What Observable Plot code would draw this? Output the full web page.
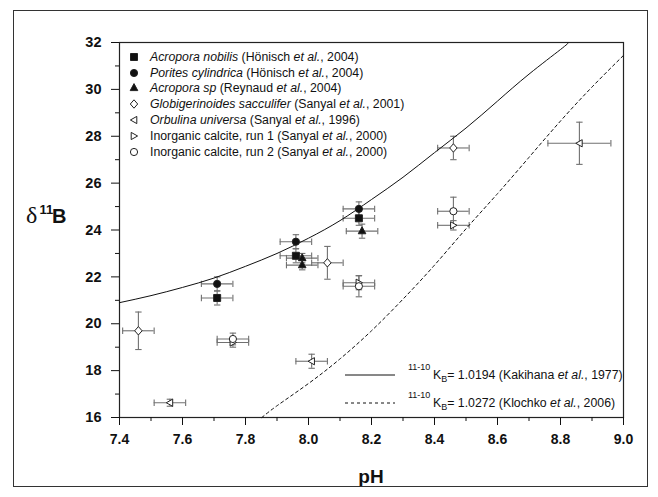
<!DOCTYPE html>
<html><head><meta charset="utf-8">
<script src="https://cdn.jsdelivr.net/npm/d3@7"></script>
<script src="https://cdn.jsdelivr.net/npm/@observablehq/plot@0.6"></script>
<style>
body{margin:0;background:#fff;}
#wrap{position:relative;width:658px;height:497px;font-family:"Liberation Sans",Arial,sans-serif;color:#111;overflow:hidden}
#frame{position:absolute;left:13px;top:10px;width:635px;height:477px;border:1.5px solid #333;box-sizing:border-box;pointer-events:none;}
#legend{position:absolute;left:127px;top:48.8px;font-size:12.3px;}
#legend .row{display:flex;align-items:center;height:15.83px;white-space:nowrap}
#legend svg{width:14px;height:12px;margin-right:9px;overflow:visible}
#over{position:absolute;left:0;top:0;pointer-events:none}
svg text{font-family:"Liberation Sans",Arial,sans-serif}
g[aria-label="x-axis tick label"] text, g[aria-label="y-axis tick label"] text{font-weight:bold}
</style></head>
<body><div id="wrap"></div>
<script>
// ---- tick values ----
const xTicks=[7.4,7.6,7.8,8.0,8.2,8.4,8.6,8.8,9.0];
const xMinor=[7.5,7.7,7.9,8.1,8.3,8.5,8.7,8.9];
const yTicks=[16,18,20,22,24,26,28,30,32];
const yMinor=[17,19,21,23,25,27,29,31];

// ---- theoretical curves ----
const kakihanaPH=[7.4,7.5,7.6,7.7,7.8,7.9,8.0,8.1,8.2,8.3,8.4,8.5,8.6,8.7,8.8,8.826];
const kakihanaD =[20.9,21.2,21.55,21.95,22.45,23.0,23.65,24.4,25.3,26.25,27.3,28.35,29.5,30.65,31.7,32.0];
const klochkoPH=[7.852,7.9,8.0,8.1,8.2,8.3,8.4,8.5,8.6,8.7,8.8,8.9,9.0];
const klochkoD =[16.0,16.5,17.45,18.5,19.7,21.05,22.5,24.05,25.55,27.1,28.65,30.1,31.45];

// ---- measured data: pH, d11B, x error, y error ----
const acroporaNobilis=[{pH:7.71,d:21.1,ex:0.05,ey:0.3},{pH:7.96,d:22.9,ex:0.05,ey:0.3},{pH:8.16,d:24.5,ex:0.05,ey:0.3}];
const poritesCylindrica=[{pH:7.71,d:21.7,ex:0.05,ey:0.3},{pH:7.96,d:23.5,ex:0.05,ey:0.3},{pH:8.16,d:24.9,ex:0.05,ey:0.3}];
const acroporaSp=[{pH:7.98,d:22.8,ex:0.05,ey:0.2},{pH:7.98,d:22.5,ex:0.05,ey:0.2},{pH:8.17,d:23.95,ex:0.05,ey:0.3}];
const globigerinoides=[{pH:7.46,d:19.7,ex:0.05,ey:0.8},{pH:8.06,d:22.6,ex:0.05,ey:0.7},{pH:8.46,d:27.5,ex:0.05,ey:0.5}];
const orbulina=[{pH:7.56,d:16.63,ex:0.05,ey:0.15},{pH:8.01,d:18.4,ex:0.05,ey:0.3},{pH:8.86,d:27.7,ex:0.1,ey:0.9}];
const inorganicRun1=[{pH:7.76,d:19.2,ex:0.05,ey:0.2},{pH:8.16,d:21.75,ex:0.05,ey:0.3},{pH:8.46,d:24.2,ex:0.05,ey:0.2}];
const inorganicRun2=[{pH:7.76,d:19.35,ex:0.05,ey:0.25},{pH:8.16,d:21.6,ex:0.05,ey:0.45},{pH:8.46,d:24.8,ex:0.05,ey:0.6}];

// ---- symbols ----
const sqr={draw(c){c.rect(-3.5,-3.5,7,7);}};
const circ={draw(c){c.moveTo(3.6,0);c.arc(0,0,3.6,0,2*Math.PI);}};
const triUp={draw(c){c.moveTo(0,-4.4);c.lineTo(3.8,2.6);c.lineTo(-3.8,2.6);c.closePath();}};
const diam={draw(c){c.moveTo(0,-4.2);c.lineTo(3.7,0);c.lineTo(0,4.2);c.lineTo(-3.7,0);c.closePath();}};
const triLeft={draw(c){c.moveTo(-3.6,0);c.lineTo(2.8,-3.6);c.lineTo(2.8,3.6);c.closePath();}};
const triRight={draw(c){c.moveTo(3.6,0);c.lineTo(-2.8,-3.6);c.lineTo(-2.8,3.6);c.closePath();}};
const hcap={draw(c){c.moveTo(-3.2,0);c.lineTo(3.2,0);}};
const vcap={draw(c){c.moveTo(0,-3.2);c.lineTo(0,3.2);}};

const series=[
 {data:acroporaNobilis,sym:sqr,fill:"#111",label:'<i>Acropora nobilis</i> (Hönisch <i>et al.</i>, 2004)'},
 {data:poritesCylindrica,sym:circ,fill:"#111",label:'<i>Porites cylindrica</i> (Hönisch <i>et al.</i>, 2004)'},
 {data:acroporaSp,sym:triUp,fill:"#111",label:'<i>Acropora sp</i> (Reynaud <i>et al.</i>, 2004)'},
 {data:globigerinoides,sym:diam,fill:"#fff",label:'<i>Globigerinoides sacculifer</i> (Sanyal <i>et al.</i>, 2001)'},
 {data:orbulina,sym:triLeft,fill:"#fff",label:'<i>Orbulina universa</i> (Sanyal <i>et al.</i>, 1996)'},
 {data:inorganicRun1,sym:triRight,fill:"#fff",label:'Inorganic calcite, run 1 (Sanyal <i>et al.</i>, 2000)'},
 {data:inorganicRun2,sym:circ,fill:"#fff",label:'Inorganic calcite, run 2 (Sanyal <i>et al.</i>, 2000)'}
];

const all=series.flatMap(s=>s.data);
const kakihana=kakihanaPH.map((p,i)=>({pH:p,d:kakihanaD[i]}));
const klochko=klochkoPH.map((p,i)=>({pH:p,d:klochkoD[i]}));
const gray="#707070";

const marks=[
 Plot.frame({stroke:"#222",strokeWidth:1.2}),
 Plot.axisX(xTicks,{tickSize:8,tickPadding:9,fontSize:14,fontWeight:"bold",tickFormat:d=>d.toFixed(1),label:null}),
 Plot.axisX(xMinor,{tickSize:4,tickFormat:()=>"",label:null}),
 Plot.axisY(yTicks,{tickSize:8,tickPadding:10,fontSize:14.5,fontWeight:"bold",tickFormat:d=>String(d),label:null}),
 Plot.axisY(yMinor,{tickSize:4,tickFormat:()=>"",label:null}),
 Plot.ruleX(all,{x:"pH",y1:d=>d.d-d.ey,y2:d=>d.d+d.ey,stroke:gray,strokeWidth:1.1}),
 Plot.ruleY(all,{y:"d",x1:d=>d.pH-d.ex,x2:d=>d.pH+d.ex,stroke:gray,strokeWidth:1.1}),
 Plot.dot(all,{x:"pH",y:d=>d.d-d.ey,symbol:hcap,fill:"none",stroke:gray,strokeWidth:1.1}),
 Plot.dot(all,{x:"pH",y:d=>d.d+d.ey,symbol:hcap,fill:"none",stroke:gray,strokeWidth:1.1}),
 Plot.dot(all,{x:d=>d.pH-d.ex,y:"d",symbol:vcap,fill:"none",stroke:gray,strokeWidth:1.1}),
 Plot.dot(all,{x:d=>d.pH+d.ex,y:"d",symbol:vcap,fill:"none",stroke:gray,strokeWidth:1.1}),
 Plot.line(kakihana,{x:"pH",y:"d",curve:"natural",stroke:"#111",strokeWidth:1}),
 Plot.line(klochko,{x:"pH",y:"d",curve:"natural",stroke:"#111",strokeWidth:1,strokeDasharray:"3,3"}),
 ...series.map(s=>Plot.dot(s.data,{x:"pH",y:"d",symbol:s.sym,fill:s.fill,stroke:"#222",strokeWidth:1}))
];

const chart=Plot.plot({
 width:658,height:497,
 marginLeft:119,marginRight:35,marginTop:42,marginBottom:80,
 style:{fontFamily:"Liberation Sans, Arial, sans-serif",color:"#111",background:"#fff",overflow:"visible"},
 x:{domain:[7.4,9.0]},
 y:{domain:[16,32]},
 marks
});
const wrap=document.getElementById("wrap");
wrap.appendChild(chart);

// legend (top-left)
const leg=document.createElement("div");leg.id="legend";
for(const s of series){
 const row=document.createElement("div");row.className="row";
 const p=d3.path();s.sym.draw(p);
 row.innerHTML=`<svg viewBox="-7 -6 14 12"><path d="${p.toString()}" fill="${s.fill}" stroke="#222" stroke-width="1"/></svg><span>${s.label}</span>`;
 leg.appendChild(row);
}
wrap.appendChild(leg);

// overlay: axis titles and curve legend
const ns="http://www.w3.org/2000/svg";
const over=document.createElementNS(ns,"svg");
over.setAttribute("id","over");over.setAttribute("width",658);over.setAttribute("height",497);
over.innerHTML=`
<text x="26" y="223" font-family="Liberation Serif, DejaVu Serif, serif" font-size="24" fill="#111" style="font-family:'Liberation Serif','DejaVu Serif',serif">δ</text>
<text x="39.5" y="214" font-size="13" font-weight="bold" fill="#111">11</text>
<text x="52" y="223" font-size="20" font-weight="bold" fill="#111">B</text>
<text x="371" y="483" font-size="19" font-weight="bold" text-anchor="middle" fill="#111">pH</text>
<line x1="345" x2="395" y1="375" y2="375" stroke="#111" stroke-width="1"/>
<text y="379" font-size="12.3" fill="#111"><tspan x="408" y="370" font-size="9">11-10</tspan><tspan x="433" y="379">K</tspan><tspan font-size="9" dy="3">B</tspan><tspan dy="-3">= 1.0194 (Kakihana </tspan><tspan font-style="italic">et al.</tspan><tspan>, 1977)</tspan></text>
<line x1="345" x2="395" y1="403" y2="403" stroke="#111" stroke-width="1" stroke-dasharray="3,3"/>
<text y="407" font-size="12.3" fill="#111"><tspan x="408" y="398" font-size="9">11-10</tspan><tspan x="433" y="407">K</tspan><tspan font-size="9" dy="3">B</tspan><tspan dy="-3">= 1.0272 (Klochko </tspan><tspan font-style="italic">et al.</tspan><tspan>, 2006)</tspan></text>
`;
wrap.appendChild(over);
const fr=document.createElement("div");fr.id="frame";wrap.appendChild(fr);
</script></body></html>
